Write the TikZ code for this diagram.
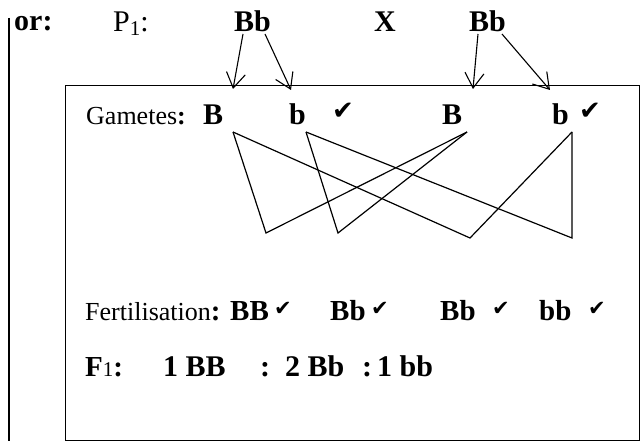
\documentclass[tikz,border=0pt]{standalone}
\usepackage{fontspec}
\setmainfont{Liberation Serif}
\newfontfamily\symfont{DejaVu Sans}
\usetikzlibrary{arrows.meta}
\newcommand{\hck}{{\symfont\fontsize{26}{26}\selectfont ✔}}
\newcommand{\lck}{{\symfont\fontsize{21}{21}\selectfont ✔}}
\begin{document}
\begin{tikzpicture}[x=1pt,y=-1pt,
  txt/.style={inner sep=0pt, anchor=base west},
  topbold/.style={txt, font=\bfseries\fontsize{30}{30}\selectfont},
  topreg/.style={txt, font=\fontsize{30}{30}\selectfont},
  gbold/.style={txt, font=\bfseries\fontsize{30}{30}\selectfont},
  fbold/.style={txt, font=\bfseries\fontsize{29}{29}\selectfont},
  lbl/.style={txt, font=\fontsize{26}{26}\selectfont},
  ln/.style={line width=1.2pt, line join=miter},
  arr/.style={line width=1.1pt, -{Straight Barb[length=15pt,width=19pt,line width=1.1pt]}},
  ckst/.style={txt}]
\useasboundingbox (0,0) rectangle (641,441);

% left bar and frame
\coordinate (bartop) at (9,18);
\coordinate (barbot) at (9,441);
\draw[line width=1.2pt] (bartop) -- (barbot);
\node[draw, line width=1pt, inner sep=0pt, minimum width=574pt, minimum height=355pt, anchor=north west] (box) at (65,85) {};

% top row
\node[topbold] (or) at (14,31) {or:};
\node[topreg] (p1) at (113,32) {P{\fontsize{21}{21}\selectfont\raisebox{-4pt}{1}}:};
\node[topbold] (bb1) at (234,32) {Bb};
\node[topbold] (cross) at (374,32) {X};
\node[topbold] (bb2) at (469,32) {Bb};

% arrows
\coordinate (a1s) at (243,34); \coordinate (a1e) at (233,89);
\coordinate (a2s) at (265,34); \coordinate (a2e) at (291,90);
\coordinate (a3s) at (478,34); \coordinate (a3e) at (473,89);
\coordinate (a4s) at (502,34); \coordinate (a4e) at (550,90);
\draw[arr] (a1s) -- (a1e);
\draw[arr] (a2s) -- (a2e);
\draw[arr] (a3s) -- (a3e);
\draw[arr] (a4s) -- (a4e);

% gametes row
\node[lbl] (gam) at (86,125) {Gametes{\bfseries:}};
\node[gbold] (g1) at (203,125) {B};
\node[gbold] (g2) at (289,125) {b};
\node[ckst] (ck1) at (332,120) {\hck};
\node[gbold] (g3) at (442,125) {B};
\node[gbold] (g4) at (552,125) {b};
\node[ckst] (ck2) at (579,120) {\hck};

% crossing lines
\coordinate (p1t) at (233,132);
\coordinate (p2t) at (306,132);
\coordinate (p3t) at (467,132);
\coordinate (p4t) at (572,132);
\coordinate (q1) at (266,233);
\coordinate (q2) at (338,233);
\coordinate (q3) at (470,238);
\coordinate (q4) at (572,238);
\draw[ln] (p1t) -- (q1) -- (p3t);
\draw[ln] (p2t) -- (q2) -- (p3t);
\draw[ln] (p1t) -- (q3) -- (p4t);
\draw[ln] (p2t) -- (q4) -- (p4t);

% fertilisation row
\node[lbl] (fert) at (85,320) {Fertilisation{\bfseries\fontsize{29}{29}\selectfont:}};
\node[fbold] (f1) at (230,320) {BB};
\node[ckst] (fc1) at (274,316) {\lck};
\node[fbold] (f2) at (330,320) {Bb};
\node[ckst] (fc2) at (371,316) {\lck};
\node[fbold] (f3) at (440,320) {Bb};
\node[ckst] (fc3) at (492,316) {\lck};
\node[fbold] (f4) at (539,320) {bb};
\node[ckst] (fc4) at (588,316) {\lck};

% F1 row
\node[txt] (flab) at (85,377) {{\bfseries\fontsize{29}{29}\selectfont F}{\fontsize{21}{21}\selectfont 1}{\bfseries\fontsize{29}{29}\selectfont :}};
\node[gbold] (r1) at (163,377) {1 BB};
\node[gbold] (c1) at (260,377) {:};
\node[gbold] (r2) at (285,377) {2 Bb};
\node[gbold] (c2) at (362,377) {:};
\node[gbold] (r3) at (377,377) {1 bb};
\end{tikzpicture}
\end{document}
